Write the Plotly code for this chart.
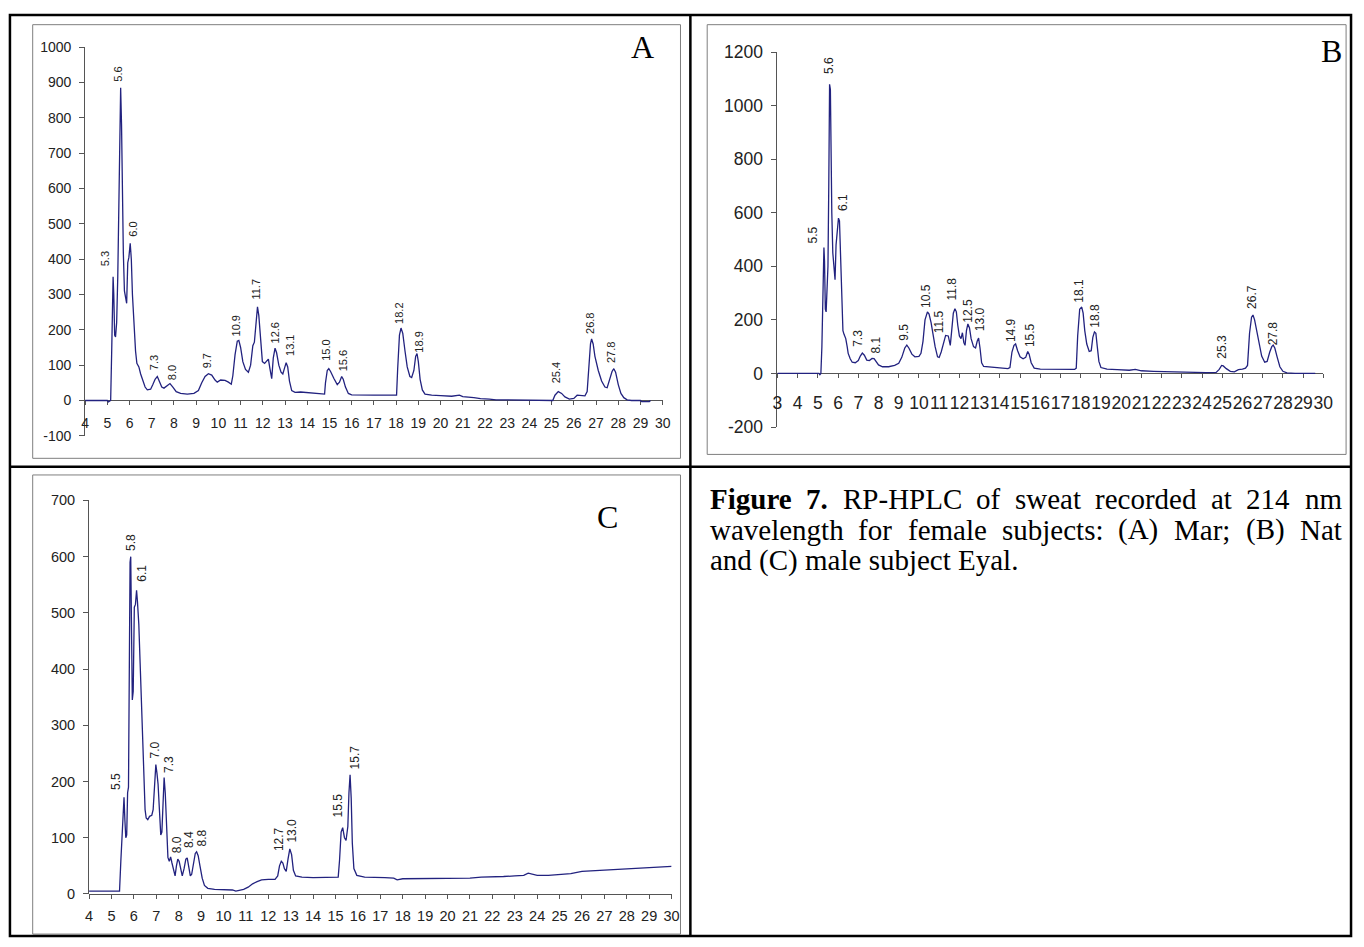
import plotly.graph_objects as go

# ---------------- data ----------------
a_time = [4.0, 5.0, 5.05, 5.1, 5.15, 5.2, 5.23, 5.26, 5.29, 5.33, 5.37, 5.42, 5.47, 5.52, 5.57, 5.6, 5.64,
          5.68, 5.72, 5.77, 5.82, 5.87, 5.92, 5.97, 6.03, 6.08, 6.13, 6.2, 6.27, 6.33, 6.42, 6.5, 6.6, 6.7,
          6.8, 6.95, 7.05, 7.15, 7.25, 7.35, 7.45, 7.55, 7.7, 7.82, 7.95, 8.1, 8.3, 8.6, 8.9, 9.1, 9.25, 9.4,
          9.55, 9.7, 9.85, 9.95, 10.1, 10.3, 10.45, 10.58, 10.65, 10.75, 10.85, 10.92, 11.0, 11.1, 11.22,
          11.35, 11.45, 11.55, 11.62, 11.7, 11.76, 11.82, 11.9, 11.98, 12.08, 12.18, 12.25, 12.32, 12.4,
          12.47, 12.55, 12.62, 12.72, 12.82, 12.9, 12.97, 13.05, 13.12, 13.2, 13.3, 13.45, 13.7, 14.0, 14.4,
          14.78, 14.82, 14.9, 14.97, 15.05, 15.2, 15.35, 15.45, 15.55, 15.62, 15.72, 15.85, 16.0, 17.0,
          18.02, 18.07, 18.15, 18.22, 18.3, 18.4, 18.5, 18.62, 18.7, 18.8, 18.88, 18.94, 19.0, 19.08, 19.18,
          19.3, 19.6, 20.0, 20.5, 20.85, 21.0, 21.5, 21.8, 22.2, 22.5, 23.0, 23.9, 24.0, 25.05, 25.15, 25.3,
          25.45, 25.6, 25.8, 26.0, 26.15, 26.35, 26.5, 26.6, 26.68, 26.75, 26.8, 26.87, 26.95, 27.1, 27.25,
          27.4, 27.5, 27.62, 27.72, 27.8, 27.88, 28.0, 28.12, 28.25, 28.4, 28.6, 29.0, 29.05, 29.4, 29.45]
a_signal = [0, 0, -4, -2, 0, 150, 310, 350, 300, 185, 180, 220, 350, 600, 880, 885, 780,
            540, 420, 310, 290, 275, 390, 405, 445, 400, 300, 210, 140, 105, 95, 75, 55, 38,
            30, 32, 45, 60, 68, 55, 38, 35, 42, 48, 38, 25, 20, 18, 20, 28, 50, 68,
            76, 72, 58, 52, 58, 57, 52, 46, 70, 130, 168, 170, 150, 110, 88,
            80, 100, 155, 165, 230, 265, 240, 160, 110, 105, 112, 117, 90, 62,
            120, 148, 135, 100, 80, 75, 90, 107, 95, 55, 28, 23, 24, 22, 20,
            18, 50, 85, 90, 82, 62, 45, 52, 68, 60, 38, 20, 16, 15,
            15, 90, 185, 205, 190, 140, 95, 68, 65, 85, 125, 133, 110, 60, 30,
            18, 15, 14, 12, 15, 11, 8, 5, 4, 2, 2, 2, 0, 0, 15, 25,
            20, 10, 4, 6, 15, 15, 13, 25, 100, 160, 174, 160, 125, 85, 55,
            38, 36, 58, 82, 90, 80, 45, 20, 8, 2, 0, 0, -3, -3, 0]
a_peak_labels = ["5.3", "5.6", "6.0", "7.3", "8.0", "9.7", "10.9", "11.7", "12.6", "13.1", "15.0", "15.6",
                 "18.2", "18.9", "25.4", "26.8", "27.8"]
a_label_x = [4.9, 5.48, 6.18, 7.08, 7.91, 9.49, 10.8, 11.65, 12.54, 13.19, 14.85, 15.6,
             18.16, 18.99, 25.2, 26.72, 27.7]
a_label_y = [400, 925, 485, 107, 80, 111, 210, 314, 192, 155, 141, 113, 247, 164, 77, 219, 136]
a_yticks = [-100, 0, 100, 200, 300, 400, 500, 600, 700, 800, 900, 1000]
a_ytick_text = ["-100", "0", "100", "200", "300", "400", "500", "600", "700", "800", "900", "1000"]

b_time = [3.0, 5.05, 5.1, 5.15, 5.2, 5.25, 5.3, 5.33, 5.37, 5.41, 5.46, 5.5, 5.54, 5.58, 5.62, 5.65, 5.69,
          5.74, 5.8, 5.85, 5.9, 5.95, 6.02, 6.07, 6.12, 6.18, 6.24, 6.3, 6.38, 6.45, 6.5, 6.6, 6.7, 6.85,
          7.0, 7.1, 7.2, 7.3, 7.42, 7.55, 7.68, 7.78, 7.88, 8.0, 8.2, 8.5, 8.8, 9.0, 9.15, 9.3, 9.4, 9.5,
          9.65, 9.8, 10.0, 10.1, 10.2, 10.3, 10.42, 10.5, 10.6, 10.7, 10.8, 10.92, 11.0, 11.1, 11.22, 11.32,
          11.45, 11.55, 11.62, 11.7, 11.78, 11.85, 11.92, 12.0, 12.08, 12.15, 12.22, 12.28, 12.35, 12.42,
          12.5, 12.58, 12.7, 12.8, 12.88, 12.95, 13.02, 13.1, 13.2, 13.5, 14.0, 14.4, 14.5, 14.6, 14.7,
          14.78, 14.88, 15.0, 15.15, 15.28, 15.38, 15.45, 15.55, 15.7, 16.0, 17.0, 17.7, 17.78, 17.85,
          17.95, 18.05, 18.12, 18.2, 18.3, 18.42, 18.52, 18.6, 18.68, 18.75, 18.82, 18.9, 19.0, 19.3, 19.8,
          20.4, 20.7, 21.0, 21.6, 22.5, 23.5, 24.2, 24.7, 24.85, 24.97, 25.05, 25.2, 25.4, 25.6, 25.8, 26.0,
          26.15, 26.25, 26.35, 26.45, 26.52, 26.6, 26.7, 26.8, 26.95, 27.1, 27.22, 27.35, 27.45, 27.52,
          27.6, 27.72, 27.85, 28.0, 28.2, 28.6, 29.0, 29.1, 29.55, 29.6]
b_signal = [0, 0, -5, 0, 100, 300, 470, 420, 240, 230, 390, 400, 700, 1080, 1060, 840, 600,
            450, 370, 350, 480, 530, 580, 570, 470, 300, 160, 145, 130, 100, 75, 55, 42, 40,
            48, 65, 76, 68, 50, 48, 56, 55, 45, 32, 25, 25, 30, 38, 60, 95, 106, 95,
            72, 62, 64, 75, 120, 200, 230, 222, 190, 140, 100, 62, 60, 80, 120, 142,
            140, 105, 160, 225, 242, 230, 180, 140, 130, 152, 115, 105, 160, 185,
            170, 130, 100, 95, 120, 132, 95, 40, 26, 24, 22, 18, 22, 80, 105,
            110, 85, 62, 55, 60, 82, 72, 40, 20, 16, 15, 15, 20, 140,
            240, 248, 225, 160, 110, 82, 85, 135, 155, 150, 100, 45, 22, 16, 14,
            12, 15, 10, 8, 6, 5, 3, 4, 15, 30, 28, 18, 8, 6, 14, 16,
            20, 30, 150, 210, 218, 200, 160, 110, 65, 42, 45, 80, 100, 106,
            95, 60, 25, 8, 2, 0, 0, -2, -2, 0]
b_peak_labels = ["5.5", "5.6", "6.1", "7.3", "8.1", "9.5", "10.5", "11.5", "11.8", "12.5", "13.0", "14.9",
                 "15.5", "18.1", "18.8", "25.3", "26.7", "27.8"]
b_label_x = [4.77, 5.56, 6.22, 7.01, 7.9, 9.25, 10.36, 11.0, 11.64, 12.39, 12.99, 14.59,
             15.49, 17.9, 18.71, 24.99, 26.5, 27.5]
b_label_y = [516, 1149, 638, 131, 106, 155, 290, 192, 314, 235, 204, 161, 143, 308, 216, 100, 284, 149]
b_yticks = [-200, 0, 200, 400, 600, 800, 1000, 1200]
b_ytick_text = ["-200", "0", "200", "400", "600", "800", "1000", "1200"]

c_time = [4.0, 5.3, 5.36, 5.42, 5.47, 5.52, 5.56, 5.6, 5.64, 5.68, 5.72, 5.76, 5.79, 5.83, 5.86, 5.89, 5.93,
          5.97, 6.02, 6.07, 6.12, 6.16, 6.22, 6.28, 6.35, 6.42, 6.5, 6.55, 6.62, 6.7, 6.8, 6.86, 6.92, 6.98,
          7.03, 7.08, 7.14, 7.2, 7.25, 7.3, 7.35, 7.4, 7.46, 7.52, 7.58, 7.64, 7.7, 7.78, 7.84, 7.9, 7.96,
          8.02, 8.1, 8.16, 8.24, 8.32, 8.38, 8.45, 8.52, 8.58, 8.65, 8.74, 8.8, 8.87, 8.95, 9.05, 9.15, 9.3,
          9.6, 10.0, 10.4, 10.55, 10.7, 10.9, 11.1, 11.3, 11.5, 11.7, 12.0, 12.3, 12.42, 12.5, 12.58, 12.65,
          12.72, 12.8, 12.88, 12.96, 13.04, 13.12, 13.22, 13.5, 14.0, 14.5, 15.12, 15.18, 15.25, 15.32, 15.4,
          15.47, 15.55, 15.6, 15.65, 15.7, 15.75, 15.82, 15.95, 16.3, 16.8, 17.2, 17.6, 17.75, 18.0, 18.5,
          19.0, 19.5, 20.0, 20.5, 21.0, 21.5, 22.0, 22.5, 23.0, 23.4, 23.6, 23.75, 24.0, 24.5, 25.0, 25.5,
          26.0, 26.5, 27.0, 27.5, 28.0, 28.5, 29.0, 29.5, 30.0]
c_signal = [5, 4, 5, 60, 110, 165, 172, 130, 100, 105, 180, 190, 380, 590, 600, 480, 345,
            360, 510, 515, 540, 520, 480, 410, 330, 240, 150, 135, 132, 138, 140, 150, 200, 230,
            215, 195, 150, 105, 110, 170, 207, 180, 110, 65, 58, 66, 55, 40, 32, 50, 62,
            58, 40, 32, 45, 62, 64, 50, 32, 35, 55, 72, 75, 68, 50, 28, 15, 10,
            8, 7, 7, 5, 6, 8, 12, 18, 22, 25, 26, 26, 32, 50, 58, 55,
            45, 40, 62, 80, 70, 42, 32, 30, 29, 30, 30, 60, 110, 118, 100,
            95, 120, 180, 212, 170, 90, 45, 33, 30, 30, 29, 28, 25, 27, 27,
            27, 28, 28, 27, 28, 30, 30, 31, 32, 33, 37, 35, 33, 33, 34, 36,
            40, 41, 43, 44, 45, 46, 47, 48, 49]
c_peak_labels = ["5.5", "5.8", "6.1", "7.0", "7.3", "8.0", "8.4", "8.8", "12.7", "13.0", "15.5", "15.7"]
c_label_x = [5.2, 5.87, 6.35, 6.96, 7.54, 7.96, 8.49, 9.03, 12.51, 13.04, 15.13, 15.85]
c_label_y = [201, 626, 571, 256, 230, 88, 97, 100, 97, 112, 158, 242]
c_yticks = [0, 100, 200, 300, 400, 500, 600, 700]
c_ytick_text = ["0", "100", "200", "300", "400", "500", "600", "700"]

panel_letters = ["A", "B", "C"]
caption_line1_bold = ["Figure", "7."]
caption_line1 = ["RP-HPLC", "of", "sweat", "recorded", "at", "214", "nm"]
caption_line2 = ["wavelength", "for", "female", "subjects:", "(A)", "Mar;", "(B)", "Nat"]
caption_line3 = "and (C) male subject Eyal."

# ---------------- layout helpers (pixel -> paper) ----------------
W, H = 1364, 947
def fx(px):
    return px / W
def fy(py):
    return 1 - py / H

LINE = "#22227f"
AXC = "#555555"
TXT = "#222222"
SANS = "Liberation Sans, Arial, sans-serif"
SERIF = "Liberation Serif, Times New Roman, serif"

panels = [
    dict(t=a_time, s=a_signal, xr=[4, 30], yr=[-100, 1000], yt=(a_yticks, a_ytick_text),
         box=(81, 665, 38, 435), tf=14, lf=11, xstand=6,
         labels=(a_peak_labels, a_label_x, a_label_y)),
    dict(t=b_time, s=b_signal, xr=[3, 30], yr=[-200, 1200], yt=(b_yticks, b_ytick_text),
         box=(781, 1333, 43, 426), tf=17.5, lf=12, xstand=10,
         labels=(b_peak_labels, b_label_x, b_label_y)),
    dict(t=c_time, s=c_signal, xr=[4, 30], yr=[0, 700], yt=(c_yticks, c_ytick_text),
         box=(85, 674, 501, 903), tf=14.5, lf=12, xstand=5,
         labels=(c_peak_labels, c_label_x, c_label_y)),
]

fig = go.Figure()
annotations = []
for i, p in enumerate(panels):
    k = "" if i == 0 else str(i + 1)
    x0, x1, yt, yb = p["box"]
    fig.add_trace(go.Scatter(x=p["t"], y=p["s"], mode="lines",
                             line=dict(color=LINE, width=1.3),
                             xaxis="x" + k, yaxis="y" + k, hoverinfo="skip"))
    ymin, ymax = p["yr"]
    zero_py = yt + (ymax - 0) / (ymax - ymin) * (yb - yt)
    fig.layout["xaxis" + k] = dict(
        domain=[fx(x0), fx(x1)], range=p["xr"], anchor="free", position=fy(zero_py),
        showline=True, linecolor=AXC, linewidth=1, ticks="outside", ticklen=4, tickcolor=AXC,
        tick0=p["xr"][0], dtick=1, tickangle=0, showgrid=False, zeroline=False,
        layer="below traces", tickfont=dict(family=SANS, size=p["tf"], color=TXT),
        ticklabelstandoff=p["xstand"], fixedrange=True)
    fig.layout["yaxis" + k] = dict(
        domain=[fy(yb), fy(yt)], range=p["yr"], anchor="x" + k, side="left",
        showline=True, linecolor=AXC, linewidth=1, ticks="outside", ticklen=5, tickcolor=AXC,
        tickmode="array", tickvals=p["yt"][0], ticktext=p["yt"][1],
        showgrid=False, zeroline=False, layer="below traces",
        tickfont=dict(family=SANS, size=p["tf"], color=TXT), ticklabelstandoff=5,
        fixedrange=True)
    names, lx, ly = p["labels"]
    for n, xv, yv in zip(names, lx, ly):
        annotations.append(dict(x=xv, y=yv, xref="x" + k, yref="y" + k, text=n, showarrow=False,
                                textangle=-90, xanchor="center", yanchor="middle",
                                font=dict(family=SANS, size=p["lf"], color=TXT)))

# panel letters
for letter, (px, py) in zip(panel_letters, [(645, 38), (1341, 42), (609, 518)]):
    annotations.append(dict(x=fx(px), y=fy(py), xref="paper", yref="paper", text=letter,
                            showarrow=False, xanchor="center", yanchor="middle",
                            font=dict(family=SERIF, size=32, color="black")))

# caption: justified lines (Times metrics, 1/1000 em)
REG = {' ': 250, '(': 333, ')': 333, '-': 333, '.': 250, ':': 278, ';': 278,
       '1': 500, '2': 500, '4': 500, '7': 500,
       'A': 722, 'B': 667, 'C': 667, 'E': 611, 'F': 556, 'H': 722, 'L': 611, 'M': 889, 'N': 722,
       'P': 556, 'R': 667, 'a': 444, 'b': 500, 'c': 444, 'd': 500, 'e': 444, 'f': 333, 'g': 500,
       'h': 500, 'i': 278, 'j': 278, 'l': 278, 'm': 778, 'n': 500, 'o': 500, 'r': 333, 's': 389,
       't': 278, 'u': 500, 'v': 500, 'w': 722, 'y': 500}
BOLD = {'F': 611, 'i': 278, 'g': 500, 'u': 556, 'r': 444, 'e': 444, '7': 500, '.': 250}
CAP_FS = 29
CAP_X0, CAP_X1 = 711, 1349

def wtext(word, table):
    return sum(table.get(ch, 500) for ch in word) / 1000 * CAP_FS

def justified(words, bold_flags, py):
    widths = [wtext(w, BOLD if b else REG) for w, b in zip(words, bold_flags)]
    gap = (CAP_X1 - CAP_X0 - sum(widths)) / (len(words) - 1)
    x = CAP_X0
    for w, b, wd in zip(words, bold_flags, widths):
        annotations.append(dict(x=fx(x), y=fy(py), xref="paper", yref="paper",
                                text=("<b>%s</b>" % w) if b else w, showarrow=False,
                                xanchor="left", yanchor="middle",
                                font=dict(family=SERIF, size=CAP_FS, color="black")))
        x += wd + gap

justified(caption_line1_bold + caption_line1,
          [True] * len(caption_line1_bold) + [False] * len(caption_line1), 500)
justified(caption_line2, [False] * len(caption_line2), 531)
annotations.append(dict(x=fx(CAP_X0), y=fy(562), xref="paper", yref="paper", text=caption_line3,
                        showarrow=False, xanchor="left", yanchor="middle",
                        font=dict(family=SERIF, size=CAP_FS, color="black")))

shapes = []
def rect(x0, y0, x1, y1, color, width):
    shapes.append(dict(type="rect", xref="paper", yref="paper", x0=fx(x0), x1=fx(x1),
                       y0=fy(y1), y1=fy(y0), line=dict(color=color, width=width),
                       fillcolor="rgba(0,0,0,0)", layer="above"))
def hline(x0, x1, y, color, width):
    shapes.append(dict(type="line", xref="paper", yref="paper", x0=fx(x0), x1=fx(x1),
                       y0=fy(y), y1=fy(y), line=dict(color=color, width=width)))
def vline(x, y0, y1, color, width):
    shapes.append(dict(type="line", xref="paper", yref="paper", x0=fx(x), x1=fx(x),
                       y0=fy(y0), y1=fy(y1), line=dict(color=color, width=width)))

# chart frames
rect(28, 15, 683, 458, "#7f7f7f", 1)
rect(710, 15, 1356, 454, "#7f7f7f", 1)
rect(28, 475, 683, 944, "#7f7f7f", 1)
# table lines
rect(5, 5, 1361, 946, "black", 2.5)
vline(693, 5, 946, "black", 2.5)
hline(5, 1361, 466.5, "black", 2.5)

fig.update_layout(width=W, height=H, margin=dict(l=0, r=0, t=0, b=0), autosize=False,
                  paper_bgcolor="white", plot_bgcolor="rgba(0,0,0,0)", showlegend=False,
                  annotations=annotations, shapes=shapes, hovermode=False)

fig.write_html("out.html", config={"displayModeBar": False},
               post_script="document.body.style.margin='0px';document.body.style.overflow='hidden';")
